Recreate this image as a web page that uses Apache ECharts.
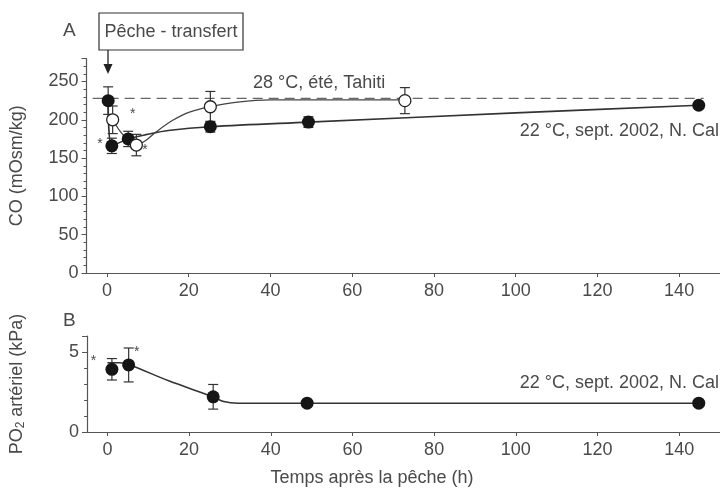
<!DOCTYPE html>
<html><head><meta charset="utf-8">
<script src="https://cdn.jsdelivr.net/npm/echarts@6/dist/echarts.min.js"></script>
<style>html,body{margin:0;padding:0;background:#fff}#c{width:720px;height:489px}</style>
</head><body><div id="c"></div>
<script>
// Panel A: CO (mOsm/kg)
const coFilledX = [0.3, 1.2, 5.2, 25.3, 49.3, 144.8];
const coFilledY = [225, 166, 175, 191, 197, 219];
const coFilledErr = [18, 10, 10, 7, 7, 0];
const coOpenX = [1.4, 7.2, 25.3, 72.9];
const coOpenY = [200, 167, 217, 225];
const coOpenErr = [18, 14, 20, 17];
// fitted curves
const coFilledCurve = [[0.3,225],[1.2,166],[5.2,175],[10,181],[15,186],[25.3,191],[49.3,197],[100,209],[144.8,219]];
const coOpenCurve = [[1.4,200],[4,180],[7.2,167],[9.5,173],[12,184],[16,199],[20.2,210],[25.3,217],[32,223],[40,226],[72.9,226]];
const coReference = [[-3.5,228],[146,228]];
// Panel B: PO2 arteriel (kPa)
const poX = [1.1, 5.2, 25.9, 48.9, 144.8];
const poY = [3.92, 4.19, 2.2, 1.8, 1.8];
const poErr = [0.67, 1.06, 0.77, 0, 0];
const poCurve = [[0,4.33],[3,4.33],[5.2,4.22],[15,3.2],[25.9,2.2],[28.5,1.9],[32,1.8],[60,1.8],[145,1.8]];
// Asterisks (significance)
const starsA = [[-1.7,168],[6.3,208],[9.3,160]];
const starsB = [[-3.4,4.4],[7.2,5.0]];
// x tick labels
const xTicks = [0, 20, 40, 60, 80, 100, 120, 140];

const TXT = '#4a4a4a', AX = '#555', LN = '#333', PT = '#151515';
const FONT = 'Liberation Sans';

function errSeries(xs, ys, es, ai) {
  return {
    type: 'custom', xAxisIndex: ai, yAxisIndex: ai, z: 2, silent: true,
    data: xs.map((x, i) => [x, ys[i] - es[i], ys[i] + es[i]]).filter((d, i) => es[i] > 0),
    renderItem: function (params, api) {
      const lo = api.coord([api.value(0), api.value(1)]);
      const hi = api.coord([api.value(0), api.value(2)]);
      const w = 5;
      const st = { stroke: LN, lineWidth: 1.2 };
      return { type: 'group', children: [
        { type: 'line', shape: { x1: lo[0], y1: lo[1], x2: hi[0], y2: hi[1] }, style: st },
        { type: 'line', shape: { x1: lo[0] - w, y1: lo[1], x2: lo[0] + w, y2: lo[1] }, style: st },
        { type: 'line', shape: { x1: hi[0] - w, y1: hi[1], x2: hi[0] + w, y2: hi[1] }, style: st }
      ]};
    }
  };
}
function starSeries(data, ai) {
  return {
    type: 'custom', xAxisIndex: ai, yAxisIndex: ai, z: 6, silent: true, data: data,
    renderItem: function (params, api) {
      const p = api.coord([api.value(0), api.value(1)]);
      return { type: 'text', x: p[0], y: p[1], style: { text: '*', fill: TXT, font: '14px ' + FONT, textAlign: 'center', textVerticalAlign: 'middle' } };
    }
  };
}
function pts(xs, ys) { return xs.map((x, i) => [x, ys[i]]); }

function xAxisDef(g) {
  return { gridIndex: g, type: 'value', min: -5, max: 150,
    axisLine: { show: true, onZero: false, lineStyle: { color: AX, width: 1.2 } },
    axisTick: { show: true, length: 4, customValues: xTicks, lineStyle: { color: AX } },
    axisLabel: { color: TXT, fontSize: 18, fontFamily: FONT, margin: 9, customValues: xTicks },
    splitLine: { show: false } };
}

const chart = echarts.init(document.getElementById('c'), null, { renderer: 'canvas' });
chart.setOption({
  animation: false,
  backgroundColor: '#fff',
  textStyle: { fontFamily: FONT },
  grid: [
    { left: 86.5, top: 58.5, width: 635, height: 214.5 },
    { left: 86.5, top: 336, width: 635, height: 96 }
  ],
  xAxis: [ xAxisDef(0), xAxisDef(1) ],
  yAxis: [
    { gridIndex: 0, type: 'value', min: 0, max: 280, interval: 50,
      axisLine: { show: true, onZero: false, lineStyle: { color: AX, width: 1.2 } }, splitLine: { show: false },
      axisTick: { show: true, length: 5, lineStyle: { color: AX } },
      minorTick: { show: true, splitNumber: 5, length: 3, lineStyle: { color: AX } },
      axisLabel: { color: TXT, fontSize: 18, fontFamily: FONT, margin: 8, showMaxLabel: false,
        formatter: v => (v % 50 === 0 ? String(v) : '') },
      name: 'CO (mOsm/kg)', nameLocation: 'middle', nameGap: 60, nameRotate: 90,
      nameTextStyle: { color: TXT, fontSize: 18, fontFamily: FONT } },
    { gridIndex: 1, type: 'value', min: 0, max: 6, interval: 5,
      axisLine: { show: true, onZero: false, lineStyle: { color: AX, width: 1.2 } }, splitLine: { show: false },
      axisTick: { show: true, length: 5, lineStyle: { color: AX } },
      minorTick: { show: true, splitNumber: 5, length: 3, lineStyle: { color: AX } },
      axisLabel: { color: TXT, fontSize: 18, fontFamily: FONT, margin: 8, showMaxLabel: false,
        formatter: v => (v === 0 || v === 5 ? String(v) : '') },
      name: 'PO{sub|2} artériel (kPa)', nameLocation: 'middle', nameGap: 60, nameRotate: 90,
      nameTextStyle: { color: TXT, fontSize: 18, fontFamily: FONT,
        rich: { sub: { fontSize: 12, verticalAlign: 'bottom', color: TXT, fontFamily: FONT, padding: [8, 0, 0, 0] } } } }
  ],
  series: [
    { type: 'line', xAxisIndex: 0, yAxisIndex: 0, data: coReference, symbol: 'none', z: 1,
      lineStyle: { color: '#666', width: 1.3, type: [10, 6] } },
    { type: 'line', xAxisIndex: 0, yAxisIndex: 0, data: coFilledCurve, symbol: 'none', smooth: 0.35, z: 2,
      lineStyle: { color: LN, width: 1.6 } },
    { type: 'line', xAxisIndex: 0, yAxisIndex: 0, data: coOpenCurve, symbol: 'none', smooth: 0.35, z: 2,
      lineStyle: { color: '#444', width: 1.3 } },
    errSeries(coFilledX, coFilledY, coFilledErr, 0),
    errSeries(coOpenX, coOpenY, coOpenErr, 0),
    { type: 'scatter', xAxisIndex: 0, yAxisIndex: 0, data: pts(coFilledX, coFilledY), symbol: 'circle', symbolSize: 13, z: 4,
      itemStyle: { color: PT, borderColor: PT, borderWidth: 0, opacity: 1 } },
    { type: 'scatter', xAxisIndex: 0, yAxisIndex: 0, data: pts(coOpenX, coOpenY), symbol: 'circle', symbolSize: 12, z: 5,
      itemStyle: { color: '#fff', borderColor: '#222', borderWidth: 1.3, opacity: 1 } },
    starSeries(starsA, 0),
    // Panel B
    { type: 'line', xAxisIndex: 1, yAxisIndex: 1, data: poCurve, symbol: 'none', smooth: 0.35, z: 2,
      lineStyle: { color: LN, width: 1.6 } },
    errSeries(poX, poY, poErr, 1),
    { type: 'scatter', xAxisIndex: 1, yAxisIndex: 1, data: pts(poX, poY), symbol: 'circle', symbolSize: 13, z: 4,
      itemStyle: { color: PT, opacity: 1 } },
    starSeries(starsB, 1)
  ],
  graphic: [
    { type: 'text', left: 63, top: 21, style: { text: 'A', fill: TXT, font: '19px ' + FONT } },
    { type: 'text', left: 63, top: 311, style: { text: 'B', fill: TXT, font: '19px ' + FONT } },
    { type: 'rect', shape: { x: 99, y: 13, width: 144, height: 37 }, style: { fill: '#fff', stroke: '#333', lineWidth: 1.2 } },
    { type: 'text', x: 171, y: 32, style: { text: 'Pêche - transfert', fill: TXT, font: '18px ' + FONT, textAlign: 'center', textVerticalAlign: 'middle' } },
    { type: 'line', shape: { x1: 108, y1: 50, x2: 108, y2: 66 }, style: { stroke: '#222', lineWidth: 1.3 } },
    { type: 'polygon', shape: { points: [[103.5, 64], [112.5, 64], [108, 74]] }, style: { fill: '#222' } },
    { type: 'text', x: 253, y: 83, style: { text: '28 °C, été, Tahiti', fill: TXT, font: '18px ' + FONT, textVerticalAlign: 'middle' } },
    { type: 'text', x: 719, y: 131, style: { text: '22 °C, sept. 2002, N. Cal', fill: TXT, font: '18px ' + FONT, textAlign: 'right', textVerticalAlign: 'middle' } },
    { type: 'text', x: 719, y: 383, style: { text: '22 °C, sept. 2002, N. Cal', fill: TXT, font: '18px ' + FONT, textAlign: 'right', textVerticalAlign: 'middle' } },
    { type: 'text', x: 372, y: 478, style: { text: 'Temps après la pêche (h)', fill: TXT, font: '18px ' + FONT, textAlign: 'center', textVerticalAlign: 'middle' } }
  ]
});
</script></body></html>
